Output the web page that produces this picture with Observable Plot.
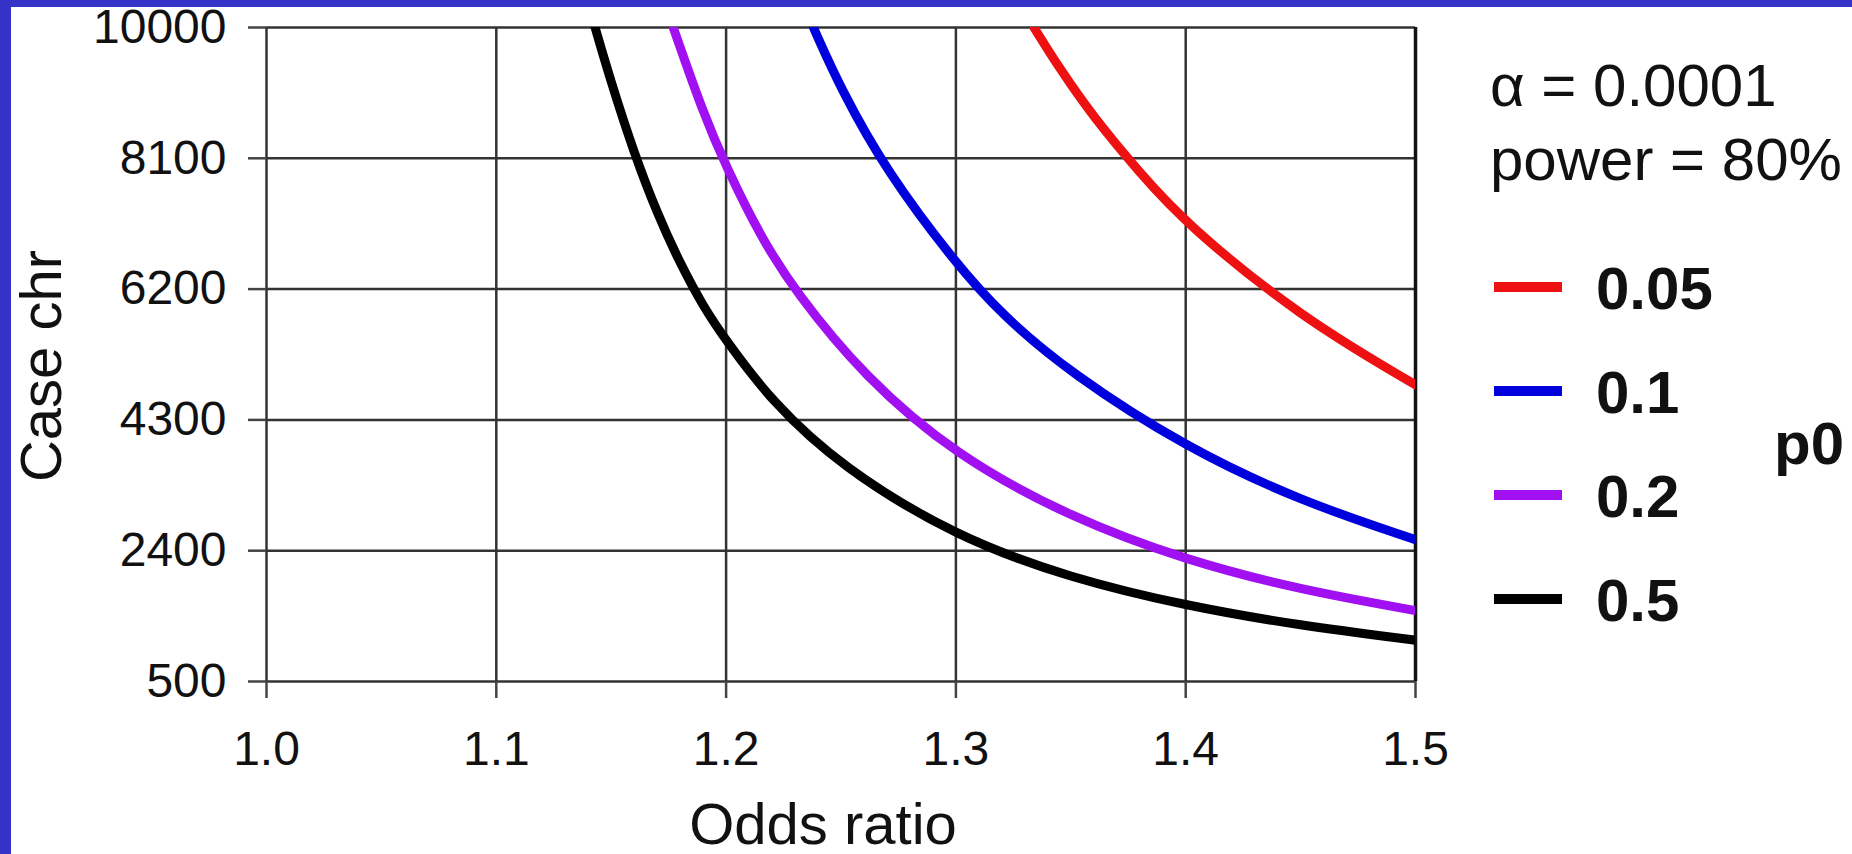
<!DOCTYPE html>
<html><head><meta charset="utf-8">
<script src="https://cdn.jsdelivr.net/npm/d3@7"></script>
<script src="https://cdn.jsdelivr.net/npm/@observablehq/plot@0.6"></script>
<style>
html,body{margin:0;padding:0;background:#3532c8;width:1852px;height:854px;overflow:hidden}
#chart{position:absolute;left:11px;top:7px;width:1841px;height:847px;background:#fff}
svg{font-family:"Liberation Sans",Arial,sans-serif}
</style></head><body><div id="chart"></div>
<script>
// ---- data ----
const oddsTicks = [1.0, 1.1, 1.2, 1.3, 1.4, 1.5];
const caseTicks = [500, 2400, 4300, 6200, 8100, 10000];
const p0Levels = ["0.05", "0.1", "0.2", "0.5"];
const p0Colors = ["#ee1111", "#0000dd", "#a010f0", "#000000"];

const orP005 = [1.334, 1.345, 1.36, 1.38, 1.4, 1.45, 1.5];
const nP005  = [10000, 9410, 8690, 7890, 7150, 5790, 4810];

const orP01 = [1.238, 1.25, 1.27, 1.3, 1.32, 1.35, 1.4, 1.45, 1.5];
const nP01  = [10000, 9100, 7900, 6570, 5825, 4975, 3900, 3120, 2560];

const orP02 = [1.177, 1.19, 1.2, 1.215, 1.23, 1.26, 1.3, 1.35, 1.4, 1.45, 1.5];
const nP02  = [10000, 8760, 7980, 6960, 6170, 4930, 3780, 2880, 2260, 1830, 1530];

const orP05 = [1.143, 1.15, 1.16, 1.17, 1.18, 1.19, 1.2, 1.22, 1.25, 1.3, 1.35, 1.4, 1.45, 1.5];
const nP05  = [10000, 9200, 8170, 7300, 6570, 5950, 5450, 4560, 3620, 2600, 2000, 1600, 1310, 1100];

const alphaText = "\u03b1 = 0.0001";
const powerText = "power = 80%";
const xTitle = "Odds ratio";
const yTitle = "Case chr";
const legendTitle = "p0";

const seriesOr = [orP005, orP01, orP02, orP05];
const seriesN = [nP005, nP01, nP02, nP05];
const data = [];
p0Levels.forEach((p, i) => seriesOr[i].forEach((o, j) => data.push({p0: p, or: o, n: seriesN[i][j]})));

const font = '"Liberation Sans", Arial, sans-serif';
const plot = Plot.plot({
  width: 1841, height: 847,
  marginLeft: 255, marginTop: 20, marginRight: 437, marginBottom: 173,
  style: {fontFamily: font, fontSize: "48px", color: "#111", background: "#fff", overflow: "visible"},
  x: {domain: [1.0, 1.5], label: null},
  y: {domain: [500, 10000], label: null},
  color: {domain: p0Levels, range: p0Colors},
  marks: [
    Plot.gridX(oddsTicks, {stroke: "#333", strokeOpacity: 1, strokeWidth: 2.5}),
    Plot.gridY(caseTicks, {stroke: "#333", strokeOpacity: 1, strokeWidth: 2.5}),
    Plot.axisX(oddsTicks, {tickSize: 17, tickPadding: 32, fontSize: 48, tickFormat: d3.format(".1f"), stroke: "#444", strokeWidth: 2.5, label: null}),
    Plot.axisY(caseTicks, {tickSize: 18, tickPadding: 22, fontSize: 48, tickFormat: d => String(d), stroke: "#444", strokeWidth: 2.5, label: null}),
    Plot.ruleX([1.5], {stroke: "#111", strokeWidth: 3.5}),
    Plot.line(data, {x: "or", y: "n", z: "p0", stroke: "p0", strokeWidth: 9, curve: "basis", clip: true})
  ]
});
document.getElementById("chart").appendChild(plot);

// annotations and legend
const svg = d3.select(plot);
const g = svg.append("g").attr("font-family", font).attr("fill", "#111").attr("text-anchor", "start");
g.append("text").attr("x", 812).attr("y", 837).attr("text-anchor", "middle").attr("font-size", 58).text(xTitle);
g.append("text").attr("transform", "translate(50,359) rotate(-90)").attr("text-anchor", "middle").attr("font-size", 58).text(yTitle);
g.append("text").attr("x", 1479).attr("y", 99).attr("font-size", 60).text(alphaText);
g.append("text").attr("x", 1479).attr("y", 173).attr("font-size", 60).text(powerText);
const swY = [280, 384, 488, 592];
p0Levels.forEach((p, i) => {
  g.append("line").attr("x1", 1483).attr("x2", 1551).attr("y1", swY[i]).attr("y2", swY[i])
    .attr("stroke", p0Colors[i]).attr("stroke-width", 10);
  g.append("text").attr("x", 1585).attr("y", swY[i] + 22).attr("font-size", 60).attr("font-weight", "bold").text(p);
});
g.append("text").attr("x", 1763).attr("y", 457).attr("font-size", 60).attr("font-weight", "bold").text(legendTitle);
</script></body></html>
